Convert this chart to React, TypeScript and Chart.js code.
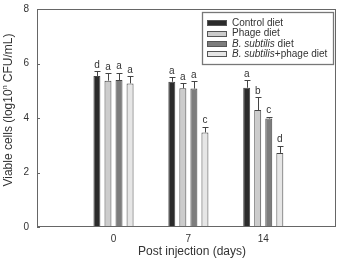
import React, { useEffect, useRef } from 'react';
import { Chart, registerables } from 'chart.js';

Chart.register(...registerables);

// ---- data ----
const days = [0, 7, 14];
const yTickValues = [0, 2, 4, 6, 8];

const controlValues = [5.54, 5.33, 5.11];
const phageValues = [5.37, 5.09, 4.29];
const subtilisValues = [5.39, 5.08, 3.98];
const comboValues = [5.27, 3.47, 2.72];

const controlErrors = [0.17, 0.17, 0.28];
const phageErrors = [0.27, 0.19, 0.47];
const subtilisErrors = [0.27, 0.27, 0.06];
const comboErrors = [0.27, 0.21, 0.26];

const controlLetters = ['d', 'a', 'a'];
const phageLetters = ['a', 'a', 'b'];
const subtilisLetters = ['a', 'a', 'c'];
const comboLetters = ['a', 'c', 'd'];

const FONT = 'Arial, "Liberation Sans", Helvetica, sans-serif';
const TEXT = '#333333';

type Seg = { text: string; italic?: boolean; size?: number; dy?: number };

function segFont(s: Seg, base: number) {
  return `${s.italic ? 'italic ' : ''}${s.size ?? base}px ${FONT}`;
}

function drawRich(ctx: CanvasRenderingContext2D, segs: Seg[], x: number, y: number, base: number, align: 'left' | 'center') {
  let total = 0;
  for (const s of segs) {
    ctx.font = segFont(s, base);
    total += ctx.measureText(s.text).width;
  }
  let cx = align === 'center' ? x - total / 2 : x;
  ctx.textAlign = 'left';
  for (const s of segs) {
    ctx.font = segFont(s, base);
    ctx.fillText(s.text, cx, y + (s.dy ?? 0));
    cx += ctx.measureText(s.text).width;
  }
}

const datasetsSpec = [
  { label: 'Control diet', data: controlValues, errors: controlErrors, letters: controlLetters, color: '#2b2b2b',
    legend: [{ text: 'Control diet' }] as Seg[] },
  { label: 'Phage diet', data: phageValues, errors: phageErrors, letters: phageLetters, color: '#cccccc',
    legend: [{ text: 'Phage diet' }] as Seg[] },
  { label: 'B. subtilis diet', data: subtilisValues, errors: subtilisErrors, letters: subtilisLetters, color: '#7d7d7d',
    legend: [{ text: 'B. subtilis', italic: true }, { text: ' diet' }] as Seg[] },
  { label: 'B. subtilis+phage diet', data: comboValues, errors: comboErrors, letters: comboLetters, color: '#e6e6e6',
    legend: [{ text: 'B. subtilis', italic: true }, { text: '+phage diet' }] as Seg[] },
];

const overlayPlugin = {
  id: 'overlay',
  afterDatasetsDraw(chart: any) {
    const ctx: CanvasRenderingContext2D = chart.ctx;
    const y = chart.scales.y;
    ctx.save();
    datasetsSpec.forEach((spec, i) => {
      const meta = chart.getDatasetMeta(i);
      meta.data.forEach((el: any, j: number) => {
        const v = spec.data[j];
        if (v == null) return;
        const top = y.getPixelForValue(v + spec.errors[j]);
        const x = Math.round(el.x) + 0.5;
        ctx.strokeStyle = '#444444';
        ctx.lineWidth = 1;
        ctx.beginPath();
        ctx.moveTo(x, el.y);
        ctx.lineTo(x, Math.round(top) + 0.5);
        ctx.moveTo(x - 3, Math.round(top) + 0.5);
        ctx.lineTo(x + 3, Math.round(top) + 0.5);
        ctx.stroke();
        const letter = spec.letters[j];
        if (letter) {
          ctx.fillStyle = TEXT;
          ctx.font = `10px ${FONT}`;
          ctx.textAlign = 'center';
          ctx.textBaseline = 'alphabetic';
          ctx.fillText(letter, el.x, top - 3.5);
        }
      });
    });
    ctx.restore();
  },
  afterDraw(chart: any) {
    const ctx: CanvasRenderingContext2D = chart.ctx;
    const a = chart.chartArea;
    const yScale = chart.scales.y;
    ctx.save();
    // frame
    ctx.strokeStyle = '#666666';
    ctx.lineWidth = 1;
    ctx.strokeRect(Math.round(a.left) + 0.5, Math.round(a.top) + 0.5, Math.round(a.right - a.left) - 1, Math.round(a.bottom - a.top) - 1);
    // inward y tick marks
    ctx.beginPath();
    for (const v of yTickValues) {
      const py = Math.round(yScale.getPixelForValue(v)) + 0.5;
      ctx.moveTo(a.left, py);
      ctx.lineTo(a.left + 3, py);
    }
    ctx.stroke();

    // axis titles
    ctx.fillStyle = TEXT;
    ctx.textBaseline = 'middle';
    drawRich(ctx, [{ text: 'Post injection (days)' }], 192, 252, 12, 'center');
    ctx.save();
    ctx.translate(9, 110);
    ctx.rotate(-Math.PI / 2);
    drawRich(ctx, [
      { text: 'Viable cells (log10' },
      { text: 'n', size: 7, dy: -4 },
      { text: ' CFU/mL)' },
    ], 0, 0, 12, 'center');
    ctx.restore();

    // legend
    const bx = 202.5, by = 12.5, bw = 131, bh = 52;
    ctx.fillStyle = '#ffffff';
    ctx.fillRect(bx, by, bw, bh);
    ctx.strokeStyle = '#777777';
    ctx.lineWidth = 1.3;
    ctx.strokeRect(bx, by, bw, bh);
    const rows = [23, 33.5, 44, 54.3];
    datasetsSpec.forEach((spec, i) => {
      const ry = rows[i];
      ctx.fillStyle = spec.color;
      ctx.fillRect(207, Math.round(ry - 3), 20, 6);
      ctx.strokeStyle = '#555555';
      ctx.lineWidth = 1;
      ctx.strokeRect(207.5, Math.round(ry - 3) + 0.5, 19, 5);
      ctx.fillStyle = TEXT;
      ctx.textBaseline = 'middle';
      drawRich(ctx, spec.legend, 232, ry, 10, 'left');
    });
    ctx.restore();
  },
};

export default function App() {
  const ref = useRef<HTMLCanvasElement | null>(null);
  useEffect(() => {
    if (!ref.current) return;
    const chart = new Chart(ref.current, {
      type: 'bar',
      data: {
        datasets: datasetsSpec.map((s) => ({
          label: s.label,
          data: days.map((d, k) => ({ x: d, y: s.data[k] })) as any,
          backgroundColor: s.color,
          borderColor: '#444444',
          borderWidth: 1,
          categoryPercentage: 0.59,
          barPercentage: 0.63,
        })),
      },
      options: {
        animation: false,
        responsive: false,
        maintainAspectRatio: false,
        layout: { padding: { left: 23, top: 9, right: 4, bottom: 15 } },
        plugins: {
          legend: { display: false },
          tooltip: { enabled: false },
          title: { display: false },
        },
        scales: {
          x: {
            type: 'linear',
            min: -7.15,
            max: 20.8,
            offset: false,
            grid: { display: false, drawTicks: false },
            border: { display: false },
            afterBuildTicks: (scale: any) => {
              scale.ticks = days.map((v) => ({ value: v }));
            },
            afterFit: (scale: any) => {
              scale.height = 18;
              scale.paddingLeft = 0;
              scale.paddingRight = 0;
            },
            ticks: {
              autoSkip: false,
              maxRotation: 0,
              padding: 6,
              color: TEXT,
              font: { size: 10, family: FONT },
            },
          },
          y: {
            min: 0,
            max: 8,
            grid: { display: false, drawTicks: false },
            border: { display: false },
            afterBuildTicks: (scale: any) => {
              scale.ticks = yTickValues.map((v) => ({ value: v }));
            },
            afterFit: (scale: any) => {
              scale.width = 14;
              scale.paddingTop = 0;
              scale.paddingBottom = 0;
            },
            ticks: {
              padding: 8,
              color: TEXT,
              font: { size: 10, family: FONT },
            },
          },
        },
      },
      plugins: [overlayPlugin],
    });
    return () => chart.destroy();
  }, []);
  return (
    <div style={{ position: 'fixed', left: 0, top: 0, width: 340, height: 260, background: '#fff' }}>
      <canvas ref={ref} width={340} height={260} style={{ display: 'block' }} />
    </div>
  );
}
